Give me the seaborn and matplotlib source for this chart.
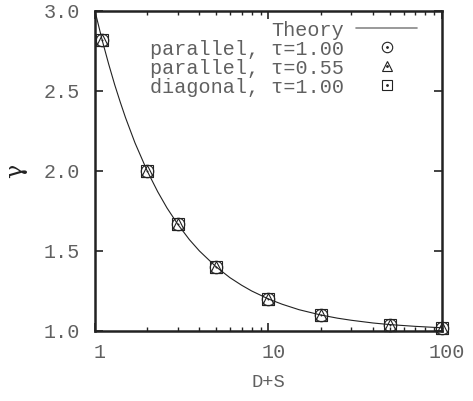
import numpy as np
import pandas as pd
import matplotlib
matplotlib.use("Agg")
import matplotlib.pyplot as plt
import matplotlib.transforms as mtransforms
from matplotlib.lines import Line2D
import seaborn as sns

sns.set_style("ticks")
plt.rcParams['font.family'] = ['Liberation Mono', 'DejaVu Sans Mono', 'DejaVu Sans']

# значения
theory_x = [1, 1.1, 1.2, 1.3, 1.4, 1.5, 1.7, 2, 2.3, 2.6, 3, 3.5, 4, 5, 6, 7, 8,
            10, 12, 15, 20, 25, 30, 40, 50, 70, 100]
theory_y = [3.000, 2.818, 2.667, 2.538, 2.429, 2.333, 2.176, 2.000, 1.870, 1.769,
            1.667, 1.571, 1.500, 1.400, 1.333, 1.286, 1.250, 1.200, 1.167, 1.133,
            1.100, 1.080, 1.067, 1.050, 1.040, 1.029, 1.020]

ds = [1.1, 2, 3, 5, 10, 20, 50, 100]
par_100 = [2.82, 2.00, 1.667, 1.40, 1.20, 1.10, 1.04, 1.02]
par_055 = [2.82, 2.00, 1.667, 1.40, 1.20, 1.10, 1.04, 1.02]
diag_100 = [2.82, 2.00, 1.667, 1.40, 1.20, 1.10, 1.04, 1.02]

labels = ['parallel, τ=1.00', 'parallel, τ=0.55', 'diagonal, τ=1.00']
markers = ['o', '^', 's']

fig = plt.figure(figsize=(4.73, 4.01), dpi=100)
ax = fig.add_axes([0.2008, 0.1746, 0.7337, 0.798])
ax.set_xscale('log')

sns.lineplot(x=theory_x, y=theory_y, ax=ax, color='#222222', linewidth=0.8,
             sort=False, legend=False)

for yv, m in zip([par_100, par_055, diag_100], markers):
    ax.plot(ds, yv, linestyle='none', marker=m, markersize=9,
            markerfacecolor='none', markeredgecolor='#222222',
            markeredgewidth=0.8, clip_on=False, zorder=3)
sns.scatterplot(x=ds, y=par_100, ax=ax, color='#222222', s=2, linewidth=0,
                legend=False, zorder=4, clip_on=False)

ax.set_xlim(1, 100)
ax.set_ylim(1.0, 3.0)
ax.set_yticks([1.0, 1.5, 2.0, 2.5, 3.0])
ax.set_yticklabels(['1.0', '1.5', '2.0', '2.5', '3.0'])
ax.set_xticks([1, 10, 100])
ax.set_xticklabels(['1', '10', '100'])

txt = '#606060'
fs = 14.5
ax.tick_params(which='both', direction='in', top=True, right=True,
               color='#222222', labelcolor=txt, labelsize=fs)
ax.tick_params(which='major', length=6, width=1.2)
ax.tick_params(axis='y', which='major', pad=11)
ax.tick_params(axis='x', which='major', pad=9)
ax.tick_params(which='minor', length=3, width=1.0)
ax.tick_params(axis='y', which='minor', left=False, right=False)
for sp in ax.spines.values():
    sp.set_linewidth(1.8)
    sp.set_color('#222222')

offset = mtransforms.ScaledTranslation(5 / 100, 0, fig.dpi_scale_trans)
for lab in ax.get_xticklabels():
    lab.set_transform(lab.get_transform() + offset)

ax.set_xlabel('D+S', fontsize=13.5, color=txt, labelpad=8)
ax.set_ylabel('γ', fontsize=17, color='#222222', labelpad=12,
              family=['DejaVu Serif'])

handles = [Line2D([], [], color='#888888', linewidth=1.2)]
for m in markers:
    h1 = Line2D([], [], linestyle='none', marker=m, markersize=7.5,
                markerfacecolor='none', markeredgecolor='#222222', markeredgewidth=0.8)
    h2 = Line2D([], [], linestyle='none', marker='.', markersize=2, color='#222222')
    handles.append((h1, h2))
leg = ax.legend(handles, ['Theory'] + labels, loc='upper right',
                bbox_to_anchor=(0.962, 1.008), frameon=False, markerfirst=False,
                fontsize=fs, labelspacing=0.0, handlelength=3.0,
                handletextpad=0.6, borderpad=0.1)
for t in leg.get_texts():
    t.set_color(txt)

fig.savefig('out.png', dpi=100)
